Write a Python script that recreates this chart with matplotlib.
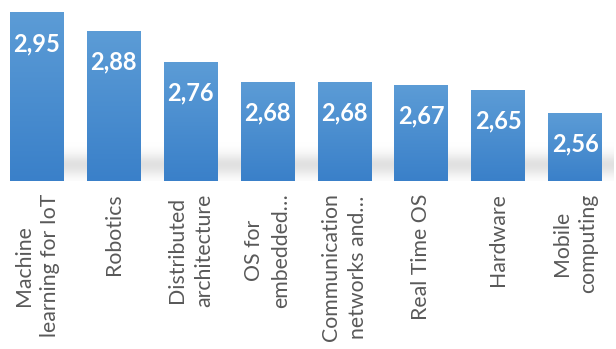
import numpy as np
import matplotlib.pyplot as plt
from matplotlib.colors import LinearSegmentedColormap

# Data
categories = ['Machine\nlearning for IoT', 'Robotics', 'Distributed\narchitecture',
              'OS for\nembedded…', 'Communication\nnetworks and…', 'Real Time OS',
              'Hardware', 'Mobile\ncomputing']
scores = [2.95, 2.88, 2.76, 2.68, 2.68, 2.67, 2.65, 2.56]
value_labels = ['2,95', '2,88', '2,76', '2,68', '2,68', '2,67', '2,65', '2,56']

plt.rcParams['font.family'] = ['Lato', 'DejaVu Sans']

y_min, y_max = 2.3, 3.0
fig = plt.figure(figsize=(6.16, 3.49), dpi=100)
ax = fig.add_axes([-1.5 / 616, 1 - 181 / 349, 615 / 616, 181 / 349])

x = np.arange(len(categories))
bars = ax.bar(x, scores, width=0.7, color='none', edgecolor='none', zorder=3)

# gradient fill for every bar (lighter on top)
grad_cmap = LinearSegmentedColormap.from_list('bar_grad', ['#3a80c9', '#5c9cd6'])
grad = np.linspace(0, 1, 256).reshape(-1, 1)
for b in bars:
    x0, w, h = b.get_x(), b.get_width(), b.get_height()
    ax.imshow(grad, cmap=grad_cmap, origin='lower', aspect='auto',
              extent=[x0, x0 + w, y_min, h], zorder=3)

# soft shadow behind the bars
yy = np.linspace(y_min, y_min + 0.2, 100)
px = (yy - y_min) / (y_max - y_min) * 181  # pixels above baseline
alpha = 0.26 * np.exp(-((px - 16) / 11) ** 2)
shadow = np.zeros((100, 2, 4))
shadow[..., :3] = 0.55
shadow[..., 3] = alpha[:, None]
ax.imshow(shadow, origin='lower', aspect='auto',
          extent=[bars[0].get_x() + 0.35, len(categories) - 0.5, y_min, y_min + 0.2], zorder=1)

for b, lab in zip(bars, value_labels):
    ax.annotate(lab, (b.get_x() + b.get_width() / 2, b.get_height()),
                xytext=(0, -22), textcoords='offset points',
                ha='center', va='center', color='white',
                fontsize=17, fontweight='bold', zorder=4)

ax.set_xlim(-0.5, len(categories) - 0.5)
ax.set_ylim(y_min, y_max)
ax.set_xticks(x)
ax.set_xticklabels(categories, rotation=90, ha='center', va='top',
                   multialignment='center', color='#595959', fontsize=15.3,
                   linespacing=1.4)
ax.tick_params(axis='x', length=0, pad=9)
ax.set_yticks([])
for s in ax.spines.values():
    s.set_visible(False)

fig.savefig('out.png', dpi=100)
